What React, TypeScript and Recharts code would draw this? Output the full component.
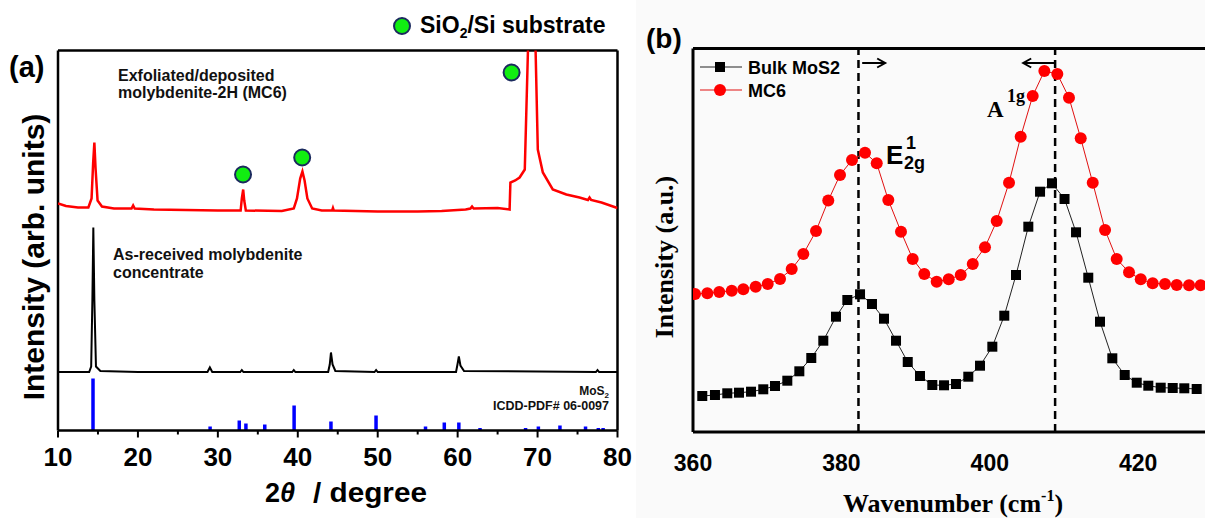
import React from 'react';
import { ComposedChart, Line, XAxis, YAxis, Scatter, ReferenceLine } from 'recharts';

const SANS = "'Liberation Sans', Arial, Helvetica, sans-serif";
const SERIF = "'Liberation Serif', 'Times New Roman', serif";

// ---------- Panel (a): XRD ----------
const xrdTicks = [10, 15, 20, 25, 30, 35, 40, 45, 50, 55, 60, 65, 70, 75, 80];

const mc6TwoTheta = [10.0, 11.0, 12.5, 13.8, 14.2, 14.4, 14.55, 14.7, 14.95, 15.5, 17.0, 19.2, 19.4, 19.6, 22.0, 26.0, 30.0, 32.85, 33.0, 33.17, 33.3, 33.5, 38.0, 39.5, 39.9, 40.3, 40.58, 40.85, 41.2, 41.8, 43.0, 44.3, 44.4, 44.5, 50.0, 55.0, 58.0, 61.0, 61.6, 61.8, 62.0, 65.0, 66.5, 66.6, 67.2, 67.75, 68.4, 68.8, 69.3, 69.75, 70.03, 70.66, 71.9, 73.6, 75.25, 76.3, 76.5, 76.7, 78.0, 79.8, 80.0];
const mc6Intensity = [227, 224.5, 223, 223, 232, 268, 288, 262, 230, 224, 222, 222, 225, 222, 221, 220.5, 220, 220, 232, 241, 230, 220, 219.5, 222, 232, 252, 259, 250, 232, 222, 220, 220, 222.5, 220, 219, 219, 219.5, 221, 222, 224, 222, 222.5, 221, 248, 250, 253, 261, 381, 520, 381, 281, 258, 241, 236, 233, 230.5, 233, 230.5, 228, 223, 222.5];

const bulkTwoTheta = [10.0, 13.9, 14.15, 14.3, 14.42, 14.55, 14.75, 15.3, 20.0, 28.7, 29.0, 29.3, 32.8, 33.0, 33.2, 39.3, 39.5, 39.7, 43.8, 44.0, 44.15, 44.35, 44.7, 49.6, 49.8, 50.0, 59.8, 60.0, 60.15, 60.35, 60.8, 77.3, 77.5, 77.7, 80.0];
const bulkIntensity = [58.5, 58.5, 64, 130, 203, 130, 64, 59.5, 58.5, 58.5, 63, 58.5, 58.5, 60.5, 58.5, 58.5, 60.5, 58.5, 58.5, 66, 78, 66, 59.5, 58.5, 60.5, 58.5, 58.5, 67, 74, 65, 59.5, 58.5, 60.5, 58.5, 58.5];

const pdfTwoTheta = [14.38, 29.03, 32.68, 33.51, 35.87, 39.54, 44.15, 49.79, 55.98, 58.33, 60.15, 62.8, 68.5, 70.1, 72.8, 76.0, 77.6, 78.2];
const pdfIntensity = [52, 4, 10, 7, 6, 25, 9, 15, 4, 8, 8, 2.5, 2.5, 4, 5, 4, 2.5, 2.5];

const substrateTwoTheta = [33.15, 40.55, 66.75];
const substrateMarkY = [256, 273, 358];

// ---------- Panel (b): Raman ----------
const ramanTicks = [360, 380, 400, 420];

const bulkShift = [361.25, 362.96, 364.62, 366.2, 367.82, 369.47, 371.05, 372.71, 374.33, 375.94, 377.56, 379.27, 380.8, 382.51, 384.12, 385.74, 387.36, 388.94, 390.59, 392.25, 393.83, 395.44, 397.1, 398.68, 400.34, 401.95, 403.53, 405.19, 406.77, 408.38, 410.07, 411.62, 413.27, 414.85, 416.51, 418.18, 419.8, 421.36, 423.03, 424.65, 426.21, 427.88];
const bulkRaman = [36, 37, 38.7, 39.3, 40.3, 42.7, 46, 51.3, 60.7, 74, 91.3, 115.3, 132, 137.7, 128, 113.3, 91.3, 70, 56, 47, 46.7, 48, 55.3, 66.3, 85.3, 116.3, 157, 205.3, 240.3, 248.7, 233, 199.7, 154.3, 110.3, 73.7, 57, 49.3, 46.3, 44.3, 44, 43.7, 43];

const mc6Shift = [360.27, 361.93, 363.54, 365.22, 366.78, 368.45, 370.07, 371.73, 373.3, 374.87, 376.58, 378.23, 379.81, 381.43, 383.18, 384.76, 386.32, 388.03, 389.61, 391.17, 392.84, 394.46, 396.08, 397.7, 399.35, 400.93, 402.59, 404.16, 405.78, 407.35, 409.1, 410.67, 412.25, 413.87, 415.53, 417.1, 418.76, 420.34, 421.95, 423.61, 425.19, 426.85, 428.42];
const mc6Raman = [138, 138.7, 140, 141.3, 142.7, 145.3, 148, 153, 163, 178, 201, 231.5, 257, 272, 279.3, 268.7, 232, 200.3, 173, 158, 150.3, 152.7, 157, 168, 184.7, 211, 249.3, 295.3, 336, 361, 358, 334.3, 293.7, 249.3, 202, 173, 159.7, 152.7, 148.7, 148, 147, 146.7, 146.7];

const e2gBulk = 382.3;
const a1gBulk = 408.8;
const arrowLevel = 369;
const e2gArrow = [382.8, 385.9];
const a1gArrow = [408.8, 404.5];

// ---------- build tables ----------
const mc6Xrd = mc6TwoTheta.map((t, i) => ({ t, v: mc6Intensity[i] }));
const bulkXrd = bulkTwoTheta.map((t, i) => ({ t, v: bulkIntensity[i] }));
const pdfSticks = pdfTwoTheta.map((t, i) => ({ t, h: pdfIntensity[i] }));
const substrate = substrateTwoTheta.map((t, i) => ({ t, v: substrateMarkY[i] }));
const bulkRamanData = bulkShift.map((w, i) => ({ w, v: bulkRaman[i] }));
const mc6RamanData = mc6Shift.map((w, i) => ({ w, v: mc6Raman[i] }));

const TickA = (props: any) => {
  const { x, y, payload } = props;
  const major = payload.value % 10 === 0;
  return (
    <g>
      <line x1={x} y1={y} x2={x} y2={y + (major ? 7 : 4)} stroke="#000" strokeWidth={2} />
      {major && (
        <text x={x} y={y + 35} textAnchor="middle" fontFamily={SANS} fontWeight="bold" fontSize={26} fill="#000">
          {payload.value}
        </text>
      )}
    </g>
  );
};

const TickB = (props: any) => {
  const { x, y, payload } = props;
  return (
    <text x={x} y={y + 39} textAnchor="middle" fontFamily={SANS} fontWeight="bold" fontSize={23} fill="#000">
      {payload.value}
    </text>
  );
};

const GreenDot = (props: any) => {
  const { cx, cy } = props;
  return <circle cx={cx} cy={cy} r={8} fill="#11ee11" stroke="#1b2a5e" strokeWidth={2} />;
};

const SquareDot = (props: any) => {
  const { cx, cy, index } = props;
  return <rect key={'s' + index} x={cx - 5} y={cy - 5} width={10} height={10} fill="#000" />;
};

const CircleDot = (props: any) => {
  const { cx, cy, index } = props;
  return <circle key={'c' + index} cx={cx} cy={cy} r={6} fill="#ff0000" />;
};

const ArrowShape = (props: any) => {
  const { x1, y1, x2, y2 } = props;
  const dir = x2 > x1 ? 1 : -1;
  return (
    <g>
      <line x1={x1} y1={y1} x2={x2} y2={y2} stroke="#000" strokeWidth={2} />
      <path d={`M${x2 - dir * 8},${y2 - 4.5} L${x2},${y2} L${x2 - dir * 8},${y2 + 4.5}`} fill="none" stroke="#000" strokeWidth={2} />
    </g>
  );
};

export default function App() {
  return (
    <div style={{ position: 'absolute', left: 0, top: 0, width: 1205, height: 518, background: '#fff', overflow: 'hidden' }}>
      <div style={{ position: 'absolute', left: 636, top: 0, width: 569, height: 518, background: '#fafafa' }} />
      <div style={{ position: 'absolute', left: 0, top: 0 }}>
        <ComposedChart width={640} height={518} margin={{ top: 50.5, right: 22.5, bottom: 0, left: 58 }}>
          <XAxis type="number" dataKey="t" domain={[10, 80]} ticks={xrdTicks} interval={0} allowDataOverflow height={87.5}
            axisLine={{ stroke: '#000', strokeWidth: 2.5 }} tickLine={false} tickSize={0} tickMargin={0} tick={(p: any) => <TickA {...p} />} />
          <YAxis type="number" domain={[0, 380]} allowDataOverflow width={0} tick={false} tickLine={false}
            axisLine={{ stroke: '#000', strokeWidth: 2.5 }} />
          <ReferenceLine y={380} stroke="#000" strokeWidth={2.5} />
          <ReferenceLine x={80} stroke="#000" strokeWidth={2.5} />
          <ReferenceLine x={10} stroke="#000" strokeWidth={2.5} />
          {pdfSticks.map((s, i) => (
            <ReferenceLine key={'pdf' + i} segment={[{ x: s.t, y: 0 }, { x: s.t, y: s.h }]} stroke="#0000ff" strokeWidth={3.5} />
          ))}
          <Line data={bulkXrd} dataKey="v" type="linear" stroke="#000" strokeWidth={2} dot={false} activeDot={false} isAnimationActive={false} />
          <Line data={mc6Xrd} dataKey="v" type="linear" stroke="#ff0000" strokeWidth={2.5} dot={false} activeDot={false} isAnimationActive={false} />
          <Scatter data={substrate} dataKey="v" shape={GreenDot} isAnimationActive={false} />
        </ComposedChart>
      </div>
      <div style={{ position: 'absolute', left: 640, top: 0 }}>
        <ComposedChart width={565} height={518} margin={{ top: 48.5, right: 0, bottom: 0, left: 53 }}>
          <XAxis type="number" dataKey="w" domain={[360, 429]} ticks={ramanTicks} interval={0} allowDataOverflow height={86}
            axisLine={{ stroke: '#000', strokeWidth: 3 }} tickLine={false} tickSize={0} tickMargin={0} tick={(p: any) => <TickB {...p} />} />
          <YAxis type="number" domain={[0, 383.5]} allowDataOverflow width={0} tick={false} tickLine={false}
            axisLine={{ stroke: '#000', strokeWidth: 3 }} />
          <ReferenceLine y={383.5} stroke="#000" strokeWidth={3} />
          <ReferenceLine x={360} stroke="#000" strokeWidth={3} />
          <ReferenceLine x={e2gBulk} stroke="#000" strokeWidth={2.5} strokeDasharray="8 5" />
          <ReferenceLine x={a1gBulk} stroke="#000" strokeWidth={2.5} strokeDasharray="8 5" />
          <ReferenceLine segment={[{ x: e2gArrow[0], y: arrowLevel }, { x: e2gArrow[1], y: arrowLevel }]} shape={ArrowShape} />
          <ReferenceLine segment={[{ x: a1gArrow[0], y: arrowLevel }, { x: a1gArrow[1], y: arrowLevel }]} shape={ArrowShape} />
          <Line data={bulkRamanData} dataKey="v" type="linear" stroke="#222" strokeWidth={1} dot={SquareDot} activeDot={false} isAnimationActive={false} />
          <Line data={mc6RamanData} dataKey="v" type="linear" stroke="#e01010" strokeWidth={1} dot={CircleDot} activeDot={false} isAnimationActive={false} />
        </ComposedChart>
      </div>
      <svg width={1205} height={518} style={{ position: 'absolute', left: 0, top: 0, pointerEvents: 'none' }}>
        {/* panel (a) texts */}
        <text x={9} y={77} fontFamily={SANS} fontWeight="bold" fontSize={29} fill="#000">(a)</text>
        <circle cx={402} cy={26} r={8} fill="#11ee11" stroke="#1b2a5e" strokeWidth={2} />
        <text x={420} y={33} fontFamily={SANS} fontWeight="bold" fontSize={23} fill="#000">
          SiO<tspan fontSize={14} dy={5}>2</tspan><tspan dy={-5}>/Si substrate</tspan>
        </text>
        <text x={118} y={81} fontFamily={SANS} fontWeight="bold" fontSize={16} fill="#111">Exfoliated/deposited</text>
        <text x={118} y={97.5} fontFamily={SANS} fontWeight="bold" fontSize={16} fill="#111">molybdenite-2H (MC6)</text>
        <text x={113} y={260} fontFamily={SANS} fontWeight="bold" fontSize={16} fill="#111">As-received molybdenite</text>
        <text x={113} y={278} fontFamily={SANS} fontWeight="bold" fontSize={16} fill="#111">concentrate</text>
        <text x={609} y={395} textAnchor="end" fontFamily={SANS} fontWeight="bold" fontSize={12} fill="#111">
          MoS<tspan fontSize={8} dy={3}>2</tspan>
        </text>
        <text x={609} y={410} textAnchor="end" fontFamily={SANS} fontWeight="bold" fontSize={12.5} fill="#111">ICDD-PDF# 06-0097</text>
        <text transform="translate(44,257) rotate(-90)" textAnchor="middle" fontFamily={SANS} fontWeight="bold" fontSize={30} fill="#000">
          Intensity (arb. units)
        </text>
        <text x={265} y={502} fontFamily={SANS} fontWeight="bold" fontSize={27} fill="#000">
          2<tspan fontStyle="italic">θ</tspan>
        </text>
        <text x={313} y={502} fontFamily={SANS} fontWeight="bold" fontSize={28} fill="#000" textLength={114} lengthAdjust="spacingAndGlyphs">/ degree</text>

        {/* panel (b) texts */}
        <text x={646} y={48} fontFamily={SANS} fontWeight="bold" fontSize={28} fill="#000">(b)</text>
        <line x1={700} y1={67} x2={742} y2={67} stroke="#222" strokeWidth={1} />
        <rect x={715} y={62} width={10} height={10} fill="#000" />
        <text x={748} y={73.5} fontFamily={SANS} fontWeight="bold" fontSize={18} fill="#000">Bulk MoS2</text>
        <line x1={700} y1={90} x2={742} y2={90} stroke="#e01010" strokeWidth={1} />
        <circle cx={720} cy={90} r={6} fill="#ff0000" />
        <text x={748} y={96.5} fontFamily={SANS} fontWeight="bold" fontSize={18} fill="#000">MC6</text>
        <text x={886} y={164} fontFamily={SANS} fontWeight="bold" fontSize={26} fill="#000">E</text>
        <text x={906} y={149} fontFamily={SANS} fontWeight="bold" fontSize={18} fill="#000">1</text>
        <text x={904} y={169} fontFamily={SANS} fontWeight="bold" fontSize={18} fill="#000">2g</text>
        <text x={987} y={117} fontFamily={SERIF} fontWeight="bold" fontSize={23} fill="#000">A</text>
        <text x={1007} y={102} fontFamily={SERIF} fontWeight="bold" fontSize={18} fill="#000">1g</text>
        <text transform="translate(673,257) rotate(-90)" textAnchor="middle" fontFamily={SERIF} fontWeight="bold" fontSize={26} fill="#000">
          Intensity (a.u.)
        </text>
        <text x={953} y={512} textAnchor="middle" fontFamily={SERIF} fontWeight="bold" fontSize={26} fill="#000">
          Wavenumber (cm<tspan fontSize={16} dy={-11}>-1</tspan><tspan dy={11}>)</tspan>
        </text>
      </svg>
    </div>
  );
}
